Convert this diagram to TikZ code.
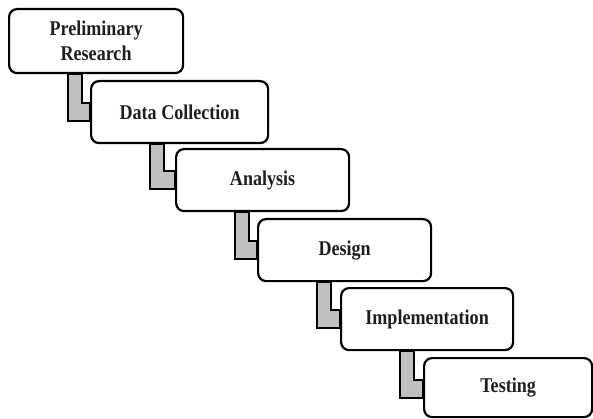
\documentclass[tikz,border=0pt]{standalone}
\usepackage{fontspec}
\newfontfamily\stagefont{Liberation Serif}[FakeStretch=0.86]
\usetikzlibrary{calc}
\pgfdeclarelayer{background}
\pgfsetlayers{background,main}
\definecolor{conngray}{RGB}{192,192,192}
\definecolor{txtcol}{RGB}{30,30,30}
\tikzset{
  stagebox/.style={draw=black, line width=2.2pt, rounded corners=8pt, fill=white,
    anchor=north west, inner sep=0pt, align=center, text=txtcol,
    font=\stagefont\bfseries\fontsize{21}{25}\selectfont},
  connband/.style={draw=black, line width=2pt, fill=conngray, line join=miter}
}
\begin{document}
\begin{tikzpicture}[x=1pt, y=-1pt]
\useasboundingbox (0,0) rectangle (593,419);
\node[stagebox, minimum width=174pt, minimum height=64pt] (b1) at (8,8) {Preliminary\\Research};
\node[stagebox, minimum width=177pt, minimum height=62pt] (b2) at (90,80) {Data Collection};
\node[stagebox, minimum width=173pt, minimum height=62pt] (b3) at (175,148) {Analysis};
\node[stagebox, minimum width=173pt, minimum height=62pt] (b4) at (257,218) {Design};
\node[stagebox, minimum width=172pt, minimum height=62pt] (b5) at (340,287) {Implementation};
\node[stagebox, minimum width=168pt, minimum height=59pt] (b6) at (423,357) {Testing};
\begin{pgfonlayer}{background}
\foreach \u/\l in {b1/b2, b2/b3, b3/b4, b4/b5, b5/b6}{
  \draw[connband] ([xshift=60pt]\u.south west) |- ([yshift=-41pt]\l.north west)
     -- ([yshift=-23pt]\l.north west) -| ([xshift=74pt]\u.south west) -- cycle;
}
\end{pgfonlayer}
\end{tikzpicture}
\end{document}
